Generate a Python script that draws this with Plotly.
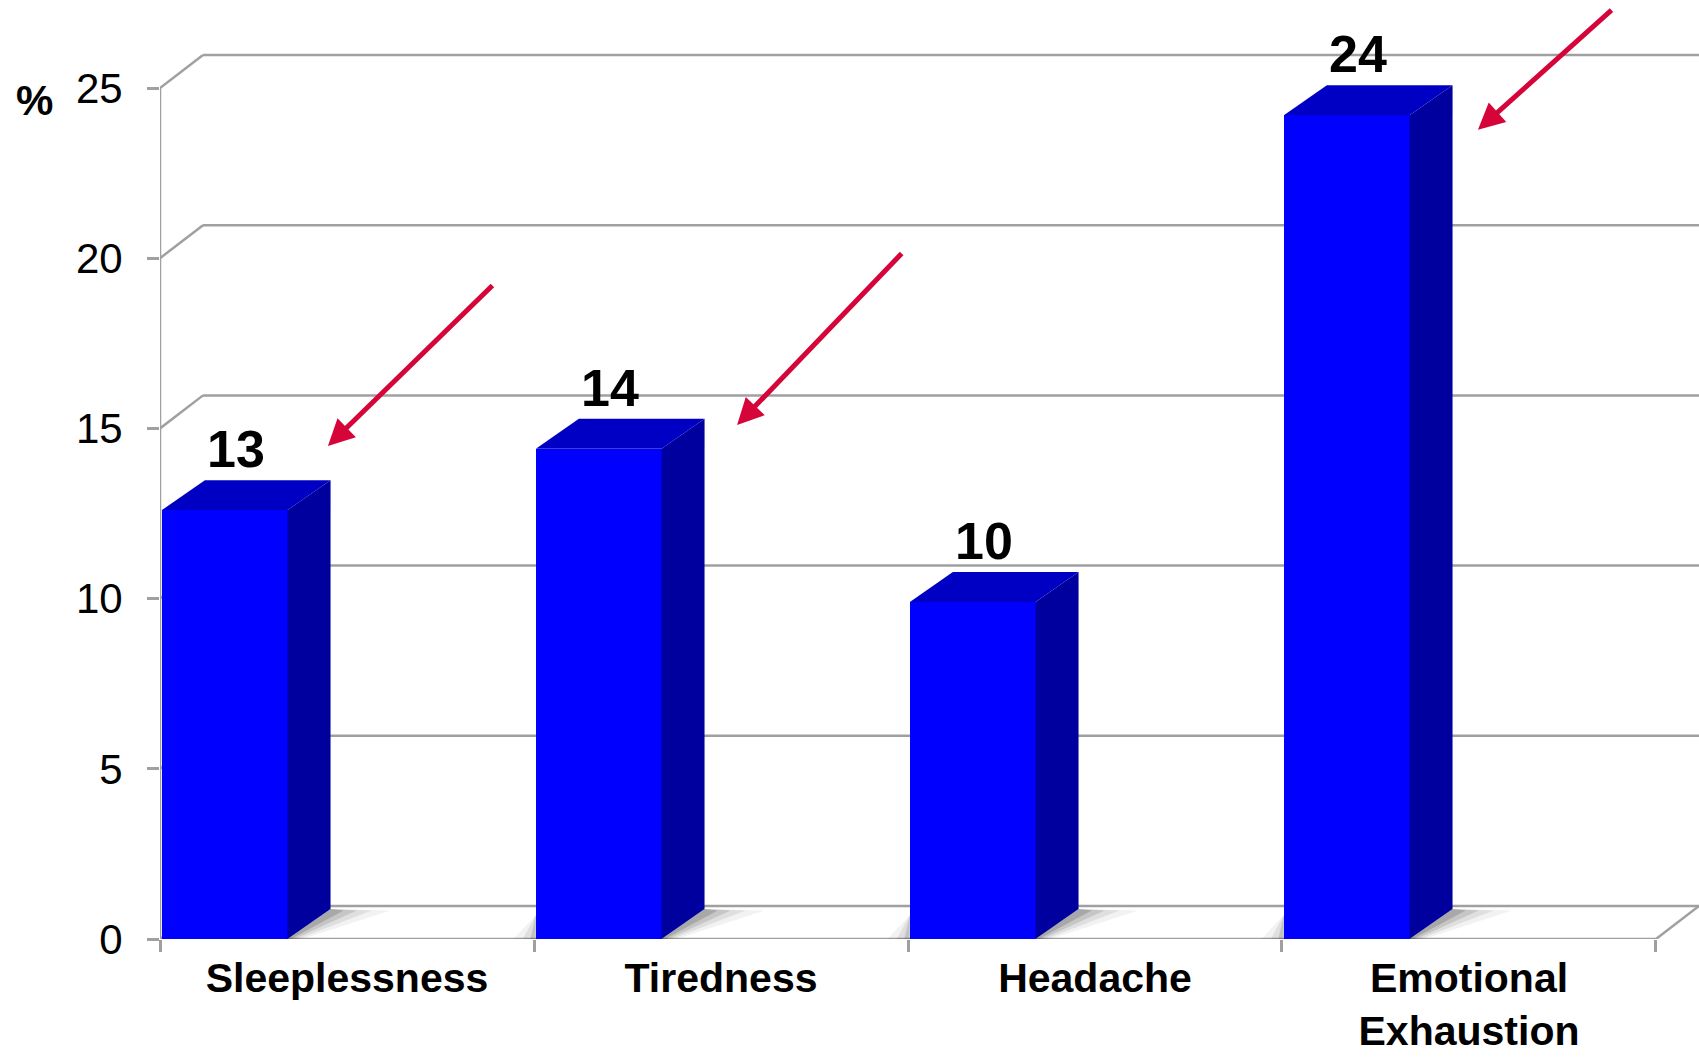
import plotly.graph_objects as go

# ---- data ----
categories = ["Sleeplessness", "Tiredness", "Headache", "Emotional<br>Exhaustion"]
values = [12.6, 14.4, 9.9, 24.2]
y_ticks = [0, 5, 10, 15, 20, 25]

# ---- styling / geometry (3D look) ----
W, H = 1699, 1057
ML, MR, MT, MB = 160, 0, 4, 118
BAR_OFF, BAR_W = 0.005, 0.336        # bar front face within category (category units)
DXB, DYB = 0.115, 0.88               # bar depth projection
DXW, DYW = 0.115, 0.97               # wall depth projection
n = len(categories)
px_per_y = 34.04
ymax = (H - MT - MB) / px_per_y
plot_w = W - ML - MR

FRONT = "#0000FF"
TOP = "#0000C4"
SIDE = "#00009E"
GRID = "#A0A0A0"
RED = "#D5053A"
FONT = "Liberation Sans, Arial, sans-serif"

fig = go.Figure()

shapes = []
# back wall gridlines + left-wall diagonals
for v in y_ticks:
    shapes.append(dict(type="line", xref="x", yref="y", x0=DXW, y0=v + DYW, x1=n + DXW + 0.5, y1=v + DYW,
                       line=dict(color=GRID, width=2.5), layer="below"))
    shapes.append(dict(type="line", xref="x", yref="y", x0=0, y0=v, x1=DXW, y1=v + DYW,
                       line=dict(color=GRID, width=2.5), layer="below"))
# front floor edge, right floor diagonal, front left axis
shapes.append(dict(type="line", xref="x", yref="y", x0=0, y0=0, x1=n, y1=0,
                   line=dict(color=GRID, width=2.5), layer="below"))
shapes.append(dict(type="line", xref="x", yref="y", x0=n, y0=0, x1=n + DXW, y1=DYW,
                   line=dict(color=GRID, width=2.5), layer="below"))
shapes.append(dict(type="line", xref="x", yref="y", x0=0, y0=0, x1=0, y1=max(y_ticks),
                   line=dict(color=GRID, width=2.5), layer="below"))
# soft floor shadows next to each bar
for i in range(n):
    x0 = i + BAR_OFF
    x1 = x0 + BAR_W
    for w, a in [(0.16, 0.05), (0.11, 0.08), (0.07, 0.11), (0.035, 0.15)]:
        shapes.append(dict(type="path", xref="x", yref="y",
                           path=f"M{x1},0 L{x1 + DXB},{DYB} L{x1 + DXB + w},{DYB * 0.95} L{x1 + w * 0.25},0 Z",
                           fillcolor=f"rgba(0,0,0,{a})", line=dict(width=0), layer="below"))
    if i > 0:
        for w, a in [(0.06, 0.05), (0.035, 0.08), (0.015, 0.12)]:
            shapes.append(dict(type="path", xref="x", yref="y",
                               path=f"M{x0 - w},0 L{x0},0 L{x0},{DYB * 0.8} Z",
                               fillcolor=f"rgba(0,0,0,{a})", line=dict(width=0), layer="below"))

# front faces
fig.add_trace(go.Bar(
    x=list(range(n)), y=values, width=BAR_W, offset=BAR_OFF,
    marker=dict(color=FRONT, line=dict(width=0)), hoverinfo="skip", showlegend=False))

# side and top faces, computed from values
for i, v in enumerate(values):
    x0 = i + BAR_OFF
    x1 = x0 + BAR_W
    fig.add_trace(go.Scatter(
        x=[x1, x1 + DXB, x1 + DXB, x1, x1], y=[0, DYB, v + DYB, v, 0],
        fill="toself", fillcolor=SIDE, mode="lines", line=dict(width=0, color=SIDE),
        hoverinfo="skip", showlegend=False))
    fig.add_trace(go.Scatter(
        x=[x0, x0 + DXB, x1 + DXB, x1, x0], y=[v, v + DYB, v + DYB, v, v],
        fill="toself", fillcolor=TOP, mode="lines", line=dict(width=0, color=TOP),
        hoverinfo="skip", showlegend=False))

annotations = []
# value labels
for i, v in enumerate(values):
    annotations.append(dict(x=i + BAR_OFF + BAR_W / 2 + 0.03, y=v + DYB, xref="x", yref="y",
                            text=f"{v:.0f}", showarrow=False, yanchor="bottom",
                            font=dict(family=FONT, size=52, color="black", weight="bold")))
# % unit label
annotations.append(dict(x=(34 - ML) / plot_w, y=24.62, xref="paper", yref="y", text="%",
                        showarrow=False, xanchor="center", yanchor="middle",
                        font=dict(family=FONT, size=42, color="black", weight="bold")))
# red arrows (tip in data coords, tail offset in px)
arrows = [(0.449, 14.48, 166, -162), (1.543, 15.10, 166, -173), (3.524, 23.77, 135, -121)]
for x, y, ax, ay in arrows:
    annotations.append(dict(x=x, y=y, xref="x", yref="y", ax=ax, ay=ay, text="",
                            showarrow=True, arrowhead=2, arrowsize=1.05, arrowwidth=5,
                            arrowcolor=RED, standoff=0))

fig.update_layout(
    width=W, height=H,
    margin=dict(l=ML, r=MR, t=MT, b=MB, autoexpand=False),
    paper_bgcolor="white", plot_bgcolor="white",
    shapes=shapes, annotations=annotations,
    bargap=0,
    xaxis=dict(range=[0, n + DXW], tickmode="array", automargin=False,
               tickvals=[i + 0.5 for i in range(n)], ticktext=categories,
               ticks="", showgrid=False, zeroline=False, showline=False,
               tickfont=dict(family=FONT, size=41, color="black", weight="bold"),
               ticklabelstandoff=11,
               minor=dict(tickmode="array", tickvals=list(range(n + 1)), ticks="outside",
                          ticklen=12, tickwidth=2.5, tickcolor=GRID, showgrid=False)),
    yaxis=dict(range=[0, ymax], tickmode="array", tickvals=y_ticks, automargin=False,
               ticks="outside", ticklen=12, tickwidth=2.5, tickcolor=GRID,
               showgrid=False, zeroline=False, showline=False,
               tickfont=dict(family=FONT, size=42, color="black"),
               ticklabelstandoff=16),
)

fig.write_html("out.html")
